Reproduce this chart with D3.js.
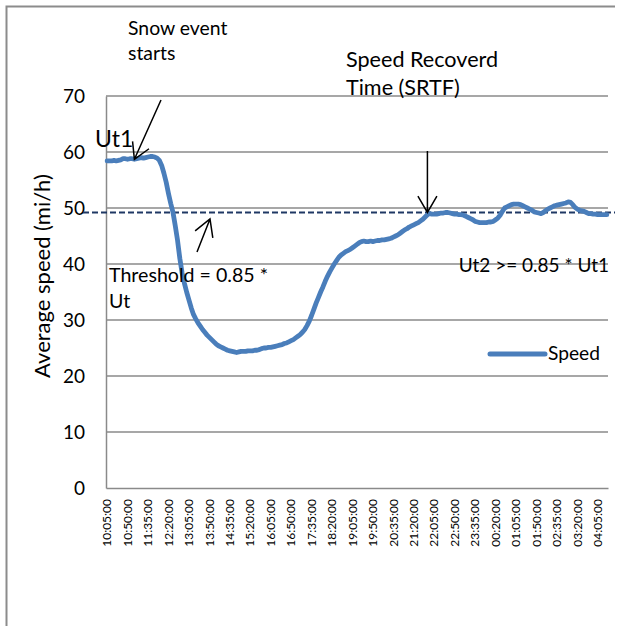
<!DOCTYPE html>
<html>
<head>
<meta charset="utf-8">
<script src="https://cdn.jsdelivr.net/npm/d3@7"></script>
<style>
  body { margin: 0; background: #fff; }
  text { font-family: Lato, 'Open Sans', sans-serif; fill: #000; }
</style>
</head>
<body>
<div id="chart"></div>
<script>
// speed readings, one every 5 minutes from 10:05:00
const speed = [
  58.4, 58.4, 58.4, 58.5, 58.4, 58.5, 58.6, 58.8, 58.8, 58.7,
  58.8, 58.8, 58.7, 58.8, 58.9, 59.0, 58.9, 59.0, 59.1, 59.2,
  59.2, 59.1, 58.9, 58.5, 57.6, 56.2, 54.6, 52.6, 50.8, 49.2,
  46.8, 44.2, 41.0, 38.4, 36.6, 35.0, 33.6, 32.2, 31.0, 30.2,
  29.5, 28.9, 28.3, 27.8, 27.3, 26.9, 26.5, 26.1, 25.7, 25.4,
  25.2, 25.0, 24.8, 24.6, 24.5, 24.4, 24.3, 24.2, 24.3, 24.4,
  24.4, 24.4, 24.5, 24.5, 24.5, 24.6, 24.6, 24.7, 24.9, 25.0,
  25.0, 25.1, 25.1, 25.2, 25.3, 25.4, 25.5, 25.6, 25.8, 25.9,
  26.1, 26.3, 26.5, 26.8, 27.1, 27.4, 27.8, 28.3, 29.0, 29.8,
  30.8, 31.9, 33.0, 34.0, 35.0, 35.9, 36.9, 37.8, 38.6, 39.3,
  40.0, 40.6, 41.2, 41.6, 41.9, 42.2, 42.4, 42.6, 42.9, 43.2,
  43.5, 43.8, 44.0, 44.1, 44.0, 44.0, 44.1, 44.0, 44.1, 44.2,
  44.2, 44.3, 44.3, 44.4, 44.5, 44.6, 44.8, 45.0, 45.2, 45.5,
  45.8, 46.1, 46.3, 46.6, 46.8, 47.0, 47.2, 47.4, 47.7, 48.0,
  48.4, 48.8, 49.0, 48.9, 48.9, 48.9, 49.0, 49.1, 49.1, 49.2,
  49.2, 49.1, 49.0, 48.9, 48.9, 48.8, 48.8, 48.7, 48.5, 48.3,
  48.1, 47.9, 47.6, 47.5, 47.4, 47.4, 47.4, 47.4, 47.5, 47.5,
  47.6, 47.9, 48.2, 48.7, 49.4, 50.0, 50.2, 50.4, 50.6, 50.7,
  50.7, 50.7, 50.6, 50.4, 50.2, 50.0, 49.8, 49.6, 49.3, 49.2,
  49.1, 49.0, 49.2, 49.5, 49.8, 50.0, 50.2, 50.4, 50.5, 50.6,
  50.7, 50.8, 50.9, 51.1, 51.0, 50.6, 50.1, 49.8, 49.6, 49.5,
  49.4, 49.2, 49.0, 49.0, 48.9, 48.9, 48.8, 48.8, 48.8, 48.8,
  48.8,
];

const tickLabels = [
  '10:05:00', '10:50:00', '11:35:00', '12:20:00', '13:05:00',
  '13:50:00', '14:35:00', '15:20:00', '16:05:00', '16:50:00',
  '17:35:00', '18:20:00', '19:05:00', '19:50:00', '20:35:00',
  '21:20:00', '22:05:00', '22:50:00', '23:35:00', '00:20:00',
  '01:05:00', '01:50:00', '02:35:00', '03:20:00', '04:05:00',
];

const yTicks = [0, 10, 20, 30, 40, 50, 60, 70];
const threshold = 49.2;
const ut1Index = 12;
const srtfIndex = 141;

const totalWidth = 619;
const totalHeight = 626;
const margin = {top: 96, right: 11, bottom: 138, left: 106};
const width = totalWidth - margin.left - margin.right;
const height = totalHeight - margin.top - margin.bottom;

const fmt = d3.timeFormat('%H:%M:%S');
const start = new Date(2011, 0, 1, 10, 5, 0);
const times = speed.map(function(d, i) {
  return fmt(d3.timeMinute.offset(start, i * 5));
});

let svg = d3.select('#chart')
  .append('svg')
    .attr('width', totalWidth)
    .attr('height', totalHeight);

// outer frame (only top and left edges show)
svg.append('path')
    .attr('d', 'M6.5,626V6.5H615')
    .attr('fill', 'none')
    .attr('stroke', '#8c8c8c')
    .attr('stroke-width', 2);

let g = svg.append('g')
    .attr('transform', 'translate(' + margin.left + ',' + margin.top + ')');

let x = d3.scaleBand().domain(times).range([0, width]);
let y = d3.scaleLinear().domain([0, 70]).range([height, 0]);

function px(i) {
  return x(times[i]) + x.bandwidth() / 2;
}

// gridlines
g.selectAll('.grid')
  .data(yTicks.slice(1))
  .enter().append('line')
    .attr('x1', 0)
    .attr('x2', width)
    .attr('y1', function(d) {
      return y(d);
    })
    .attr('y2', function(d) {
      return y(d);
    })
    .attr('stroke', '#8a8a8a')
    .attr('stroke-width', 1.5);

let yAxis = g.append('g')
    .call(d3.axisLeft(y).tickValues(yTicks).tickSize(0).tickPadding(21));
yAxis.select('.domain').attr('stroke', '#8a8a8a').attr('stroke-width', 1.5);
yAxis.selectAll('text')
    .style('font-size', '19px')
    .attr('dy', '0.36em');

let xAxis = g.append('g')
    .attr('transform', 'translate(0,' + height + ')')
    .call(d3.axisBottom(x).tickValues(tickLabels).tickSize(0));
xAxis.select('.domain').attr('stroke', '#8a8a8a').attr('stroke-width', 1.5);
xAxis.selectAll('text')
    .style('font-size', '12px')
    .attr('text-anchor', 'end')
    .attr('transform', 'translate(0,11) rotate(-90)')
    .attr('x', 0)
    .attr('y', 0)
    .attr('dy', '0.35em');

// y axis title
svg.append('text')
    .attr('transform', 'translate(50,276) rotate(-90)')
    .attr('text-anchor', 'middle')
    .style('font-size', '22px')
    .text('Average speed (mi/h)');

// threshold line
g.append('line')
    .attr('x1', -23)
    .attr('x2', width + 7)
    .attr('y1', y(threshold))
    .attr('y2', y(threshold))
    .attr('stroke', '#1f3864')
    .attr('stroke-width', 2)
    .attr('stroke-dasharray', '6,3');

let line = d3.line()
  .x(function(d, i) {
    return px(i);
  })
  .y(function(d) {
    return y(d);
  });

g.append('path')
    .datum(speed)
    .attr('d', line)
    .attr('fill', 'none')
    .attr('stroke', '#4a7ebb')
    .attr('stroke-width', 4.8)
    .attr('stroke-linejoin', 'round')
    .attr('stroke-linecap', 'round');

/**
* open arrow from (x1,y1) to tip (x2,y2).
*/
function arrow(x1, y1, x2, y2, len) {
  const a = Math.atan2(y1 - y2, x1 - x2);
  const w = Math.PI / 6;
  let p = d3.path();
  p.moveTo(x1, y1);
  p.lineTo(x2, y2);
  p.moveTo(x2 + len * Math.cos(a - w), y2 + len * Math.sin(a - w));
  p.lineTo(x2, y2);
  p.lineTo(x2 + len * Math.cos(a + w), y2 + len * Math.sin(a + w));
  g.append('path')
      .attr('d', p.toString())
      .attr('fill', 'none')
      .attr('stroke', '#000')
      .attr('stroke-width', 1.5);
}

arrow(161 - margin.left, 100 - margin.top, px(ut1Index), y(speed[ut1Index]), 18);
arrow(px(srtfIndex), 151 - margin.top, px(srtfIndex), y(threshold), 19);
arrow(197 - margin.left, 252 - margin.top, 210 - margin.left, 219 - margin.top, 19);

// annotations
const notes = [
  {t: 'Snow event', x: 128, y: 35, s: 19.4},
  {t: 'starts', x: 128, y: 60, s: 19.4},
  {t: 'Ut1', x: 95, y: 147, s: 23},
  {t: 'Speed Recoverd', x: 346, y: 67, s: 21.6},
  {t: 'Time (SRTF)', x: 346, y: 95, s: 21.6},
  {t: 'Threshold = 0.85 *', x: 109, y: 282, s: 19.6},
  {t: 'Ut', x: 109, y: 308, s: 19.6},
  {t: 'Ut2 >= 0.85 * Ut1', x: 609, y: 272, s: 19},
];

svg.selectAll('.note')
  .data(notes)
  .enter().append('text')
    .attr('class', 'note')
    .attr('x', function(d) {
      return d.x;
    })
    .attr('y', function(d) {
      return d.y;
    })
    .attr('text-anchor', function(d) {
      return d.t.indexOf('Ut2') === 0 ? 'end' : 'start';
    })
    .style('font-size', function(d) {
      return d.s + 'px';
    })
    .text(function(d) {
      return d.t;
    });

// legend
let legend = svg.append('g').attr('transform', 'translate(490,354)');
legend.append('line')
    .attr('x1', 0)
    .attr('x2', 55)
    .attr('stroke', '#4a7ebb')
    .attr('stroke-width', 5)
    .attr('stroke-linecap', 'round');
legend.append('text')
    .attr('x', 58)
    .attr('y', 6)
    .style('font-size', '19.2px')
    .text('Speed');
</script>
</body>
</html>
